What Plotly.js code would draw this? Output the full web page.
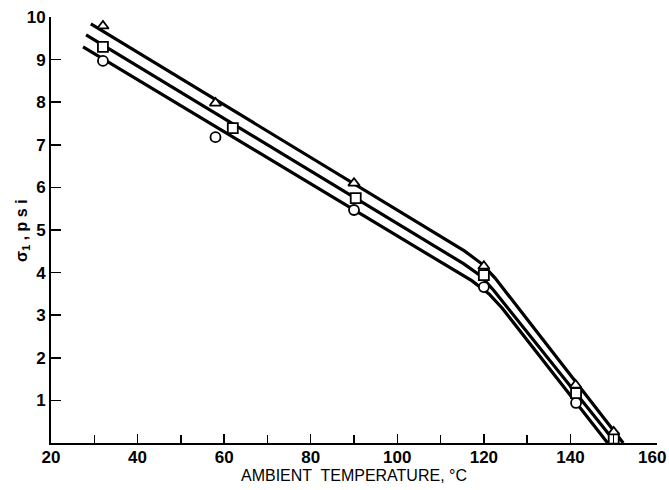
<!DOCTYPE html>
<html>
<head>
<meta charset="utf-8">
<script src="https://cdn.plot.ly/plotly-3.0.1.min.js"></script>
<style>html,body{margin:0;padding:0;background:#fff;}#chart{width:669px;height:490px;}</style>
</head>
<body>
<div id="chart"></div>
<script>
// Measured points
var triX = [32, 58, 90, 120, 141.2, 150];
var triY = [9.79, 7.98, 6.10, 4.15, 1.36, 0.26];
var sqX = [32, 62, 90.4, 120, 141.3, 150];
var sqY = [9.30, 7.39, 5.75, 3.94, 1.17, 0.10];
var cirX = [32, 58, 90, 120, 141.3];
var cirY = [8.97, 7.18, 5.47, 3.66, 0.94];

// Fitted curves
var topLineX = [29.2, 115.5, 119.6, 122.6, 152.2];
var topLineY = [9.84, 4.51, 4.20, 3.87, 0];
var midLineX = [28.1, 115.3, 119.3, 122.3, 150.5];
var midLineY = [9.58, 4.21, 3.92, 3.58, 0];
var botLineX = [27.4, 117.2, 121.2, 124.2, 148.6];
var botLineY = [9.30, 3.81, 3.50, 3.17, 0];

var xTickVals = [20, 40, 60, 80, 100, 120, 140, 160];
var xTickText = ['20', '40', '60', '80', '100', '120', '140', '160\u00a0\u00a0'];
var yTickVals = [1, 2, 3, 4, 5, 6, 7, 8, 9, 10];

var lineStyle = {color: '#000', width: 3.2};
function curve(x, y) {
  return {x: x, y: y, mode: 'lines', line: lineStyle, hoverinfo: 'skip', showlegend: false};
}
function pts(x, y, sym) {
  return {x: x, y: y, mode: 'markers', showlegend: false,
    marker: {symbol: sym, size: 10, color: '#fff', line: {color: '#000', width: 1.8}}};
}

var data = [
  curve(topLineX, topLineY), curve(midLineX, midLineY), curve(botLineX, botLineY),
  pts(cirX, cirY, 'circle'), pts(sqX, sqY, 'square'), pts(triX, triY, 'triangle-up')
];

var fam = '"Liberation Sans", Arial, sans-serif';
var tickFont = {family: fam, size: 17, color: '#000', weight: 'bold'};

var layout = {
  width: 669, height: 490,
  margin: {l: 51, r: 12, t: 17, b: 47, pad: 0},
  paper_bgcolor: '#fff', plot_bgcolor: '#fff',
  showlegend: false,
  xaxis: {
    range: [20, 160], showgrid: false, zeroline: false,
    showline: true, linecolor: '#000', linewidth: 2,
    tickmode: 'array', tickvals: xTickVals, ticktext: xTickText,
    ticks: 'inside', ticklen: 9, tickwidth: 1.5, tickcolor: '#000',
    minor: {dtick: 10, tick0: 20, ticks: 'inside', ticklen: 8, tickwidth: 1.5, tickcolor: '#000', showgrid: false},
    tickfont: tickFont, ticklabeloverflow: 'allow', ticklabelstandoff: -2,
    title: {text: 'AMBIENT  TEMPERATURE, °C', font: {family: fam, size: 16, color: '#000'}, standoff: 0}
  },
  yaxis: {
    range: [0, 10], showgrid: false, zeroline: false,
    showline: true, linecolor: '#000', linewidth: 2,
    tickmode: 'array', tickvals: yTickVals,
    ticks: 'inside', ticklen: 10, tickwidth: 1.5, tickcolor: '#000',
    tickfont: tickFont, ticklabelstandoff: 0
  },
  annotations: [{
    text: 'σ<sub>1</sub> , p s i', xref: 'paper', yref: 'paper',
    x: -0.048, y: 0.5, xanchor: 'center', yanchor: 'middle', showarrow: false,
    textangle: -90, font: {family: fam, size: 16, color: '#000', weight: 'bold'}
  }]
};

Plotly.newPlot('chart', data, layout, {displayModeBar: false, staticPlot: true});
</script>
</body>
</html>
